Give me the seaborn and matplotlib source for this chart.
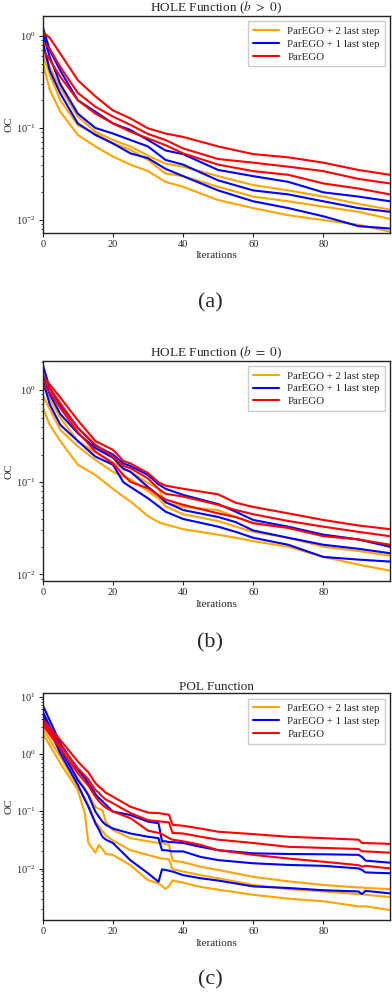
import numpy as np
import pandas as pd
import seaborn as sns
import matplotlib
matplotlib.use("Agg")
import matplotlib.pyplot as plt

# ---- data (OC vs iteration, upper / mean / lower curves) ----
labels = ["ParEGO + 2 last step", "ParEGO + 1 last step", "ParEGO"]
colors = ["orange", "blue", "red"]
titles = [r"HOLE Function ($b\ >\ 0$)", r"HOLE Function ($b\ =\ 0$)", "POL Function"]
captions = ["(a)", "(b)", "(c)"]

# panel (a)
iters_a = [0, 2, 5, 10, 15, 20, 25, 30, 35, 40, 50, 60, 70, 80, 90, 99]
a_red_up = [1.10, 0.95, 0.64, 0.33, 0.22, 0.155, 0.127, 0.099, 0.087, 0.080, 0.063, 0.052, 0.048, 0.042, 0.035, 0.031]
a_red_mid = [0.86, 0.72, 0.46, 0.24, 0.17, 0.133, 0.108, 0.086, 0.074, 0.060, 0.046, 0.042, 0.038, 0.034, 0.028, 0.025]
a_red_lo = [0.70, 0.55, 0.36, 0.20, 0.143, 0.112, 0.091, 0.077, 0.065, 0.053, 0.040, 0.034, 0.031, 0.025, 0.022, 0.019]
a_blue_up = [1.25, 0.70, 0.42, 0.20, 0.15, 0.112, 0.095, 0.074, 0.057, 0.052, 0.035, 0.030, 0.026, 0.020, 0.018, 0.016]
a_blue_mid = [1.06, 0.59, 0.30, 0.143, 0.10, 0.087, 0.074, 0.063, 0.045, 0.040, 0.027, 0.021, 0.019, 0.016, 0.0135, 0.0123]
a_blue_lo = [0.86, 0.42, 0.237, 0.112, 0.084, 0.068, 0.053, 0.047, 0.036, 0.030, 0.021, 0.016, 0.0135, 0.011, 0.0086, 0.0081]
a_or_up = [0.76, 0.46, 0.27, 0.133, 0.091, 0.074, 0.063, 0.050, 0.041, 0.038, 0.030, 0.024, 0.021, 0.018, 0.015, 0.013]
a_or_mid = [0.64, 0.38, 0.20, 0.107, 0.087, 0.068, 0.058, 0.045, 0.032, 0.030, 0.023, 0.018, 0.016, 0.014, 0.0123, 0.0103]
a_or_lo = [0.52, 0.26, 0.15, 0.084, 0.063, 0.049, 0.040, 0.034, 0.026, 0.023, 0.0165, 0.0135, 0.0113, 0.010, 0.0089, 0.0075]

# panel (b)
iters_b = [0, 2, 5, 10, 15, 20, 23, 25, 30, 33, 35, 40, 50, 55, 60, 70, 80, 90, 99]
b_red_up = [1.45, 1.15, 0.83, 0.47, 0.28, 0.225, 0.17, 0.16, 0.126, 0.10, 0.092, 0.085, 0.074, 0.060, 0.054, 0.046, 0.039, 0.034, 0.031]
b_red_mid = [1.30, 1.05, 0.72, 0.39, 0.255, 0.19, 0.15, 0.142, 0.11, 0.085, 0.075, 0.070, 0.057, 0.050, 0.045, 0.038, 0.033, 0.029, 0.026]
b_red_lo = [1.15, 0.95, 0.64, 0.35, 0.216, 0.16, 0.12, 0.101, 0.086, 0.072, 0.065, 0.057, 0.046, 0.042, 0.036, 0.032, 0.026, 0.024, 0.021]
b_blue_up = [1.88, 1.05, 0.69, 0.39, 0.25, 0.20, 0.16, 0.15, 0.12, 0.095, 0.085, 0.073, 0.058, 0.048, 0.039, 0.033, 0.027, 0.024, 0.020]
b_blue_mid = [1.50, 0.90, 0.55, 0.34, 0.235, 0.185, 0.14, 0.13, 0.089, 0.072, 0.061, 0.050, 0.042, 0.037, 0.030, 0.025, 0.021, 0.019, 0.017]
b_blue_lo = [1.30, 0.70, 0.42, 0.28, 0.19, 0.155, 0.10, 0.089, 0.067, 0.055, 0.048, 0.040, 0.033, 0.029, 0.025, 0.021, 0.0155, 0.0145, 0.0138]
b_or_up = [1.15, 0.80, 0.50, 0.28, 0.21, 0.165, 0.14, 0.13, 0.098, 0.085, 0.060, 0.054, 0.050, 0.042, 0.036, 0.032, 0.027, 0.024, 0.020]
b_or_mid = [0.88, 0.62, 0.37, 0.245, 0.175, 0.13, 0.115, 0.108, 0.080, 0.067, 0.055, 0.045, 0.038, 0.033, 0.029, 0.025, 0.020, 0.018, 0.016]
b_or_lo = [0.65, 0.42, 0.28, 0.155, 0.12, 0.085, 0.070, 0.062, 0.043, 0.037, 0.035, 0.031, 0.027, 0.025, 0.023, 0.020, 0.0155, 0.0128, 0.011]

# panel (c)
iters_c = [0, 5, 10, 12, 13, 15, 16, 17, 18, 20, 25, 30, 33, 34, 35, 36, 37, 40, 45, 50, 60, 70, 80, 90, 91, 92, 99]
c_red_up = [4.0, 1.75, 0.74, 0.55, 0.48, 0.31, 0.27, 0.24, 0.21, 0.18, 0.12, 0.095, 0.093, 0.091, 0.089, 0.087, 0.058, 0.056, 0.050, 0.044, 0.040, 0.036, 0.034, 0.032, 0.028, 0.028, 0.027]
c_red_mid = [3.6, 1.44, 0.56, 0.42, 0.36, 0.235, 0.21, 0.18, 0.16, 0.138, 0.093, 0.070, 0.067, 0.066, 0.065, 0.064, 0.042, 0.041, 0.036, 0.032, 0.028, 0.024, 0.023, 0.022, 0.020, 0.020, 0.019]
c_red_lo = [3.2, 1.25, 0.46, 0.33, 0.28, 0.18, 0.15, 0.13, 0.115, 0.099, 0.076, 0.046, 0.042, 0.040, 0.037, 0.034, 0.032, 0.030, 0.026, 0.021, 0.0174, 0.015, 0.0132, 0.0115, 0.0108, 0.0112, 0.0101]
c_blue_up = [7.1, 1.53, 0.53, 0.38, 0.31, 0.20, 0.17, 0.15, 0.13, 0.099, 0.086, 0.066, 0.062, 0.030, 0.030, 0.029, 0.029, 0.028, 0.024, 0.021, 0.0185, 0.018, 0.0178, 0.0174, 0.016, 0.0138, 0.0127]
c_blue_mid = [5.5, 1.25, 0.35, 0.24, 0.19, 0.099, 0.080, 0.066, 0.058, 0.050, 0.041, 0.036, 0.034, 0.021, 0.021, 0.0205, 0.020, 0.020, 0.016, 0.0141, 0.0124, 0.0116, 0.0112, 0.0101, 0.0095, 0.0086, 0.0083]
c_blue_lo = [4.8, 1.03, 0.29, 0.16, 0.12, 0.062, 0.048, 0.036, 0.032, 0.028, 0.014, 0.0083, 0.0059, 0.0097, 0.0095, 0.0092, 0.0089, 0.0077, 0.0068, 0.0062, 0.0049, 0.0046, 0.0042, 0.0040, 0.0036, 0.0041, 0.0037]
c_or_up = [3.4, 1.17, 0.38, 0.25, 0.20, 0.12, 0.11, 0.105, 0.065, 0.047, 0.034, 0.030, 0.028, 0.028, 0.027, 0.026, 0.0138, 0.013, 0.0108, 0.0095, 0.0072, 0.0060, 0.0052, 0.0047, 0.0047, 0.0046, 0.0044]
c_or_mid = [2.8, 0.90, 0.27, 0.17, 0.13, 0.065, 0.055, 0.045, 0.038, 0.031, 0.021, 0.0173, 0.0155, 0.015, 0.0148, 0.0145, 0.0098, 0.0089, 0.0077, 0.0068, 0.0052, 0.0044, 0.0040, 0.0036, 0.0036, 0.0035, 0.0032]
c_or_lo = [2.3, 0.69, 0.235, 0.092, 0.028, 0.019, 0.026, 0.022, 0.018, 0.0174, 0.0115, 0.0063, 0.0055, 0.0050, 0.0044, 0.0050, 0.0062, 0.0057, 0.0048, 0.0043, 0.0035, 0.0030, 0.0027, 0.0022, 0.0022, 0.0022, 0.0019]

panels = [
    (iters_a, [(a_or_up, a_or_mid, a_or_lo), (a_blue_up, a_blue_mid, a_blue_lo), (a_red_up, a_red_mid, a_red_lo)], (0.0073, 1.64)),
    (iters_b, [(b_or_up, b_or_mid, b_or_lo), (b_blue_up, b_blue_mid, b_blue_lo), (b_red_up, b_red_mid, b_red_lo)], (0.0085, 2.08)),
    (iters_c, [(c_or_up, c_or_mid, c_or_lo), (c_blue_up, c_blue_mid, c_blue_lo), (c_red_up, c_red_mid, c_red_lo)], (0.00127, 11.4)),
]

sns.set_style("ticks")
plt.rcParams["font.family"] = ["Liberation Serif", "DejaVu Serif"]
plt.rcParams["mathtext.fontset"] = "stix"

fig = plt.figure(figsize=(3.92, 9.94), dpi=100)
# axes boxes [left, bottom, width, height] in figure fractions
boxes = [[0.109, 0.7659, 0.886, 0.218],
         [0.109, 0.4155, 0.886, 0.2216],
         [0.109, 0.0744, 0.886, 0.2281]]
caption_y = [0.695, 0.353, 0.014]

for k, (iters, groups, ylim) in enumerate(panels):
    ax = fig.add_axes(boxes[k])
    for lab, col, (up, mid, lo) in zip(labels, colors, groups):
        sns.lineplot(x=iters, y=up, color=col, lw=1.5, ax=ax, legend=False)
        sns.lineplot(x=iters, y=mid, color=col, lw=1.5, ax=ax, label=lab)
        sns.lineplot(x=iters, y=lo, color=col, lw=1.5, ax=ax, legend=False)
    ax.set_yscale("log")
    ax.set_xlim(0, 99)
    ax.set_ylim(*ylim)
    ax.set_xticks([0, 20, 40, 60, 80])
    ax.set_xlabel("Iterations", fontsize=8, labelpad=2)
    ax.set_ylabel("OC", fontsize=8, labelpad=2)
    ax.set_title(titles[k], fontsize=9.5, pad=2)
    ax.tick_params(labelsize=7.5, length=3, width=0.8, pad=2)
    ax.tick_params(which="minor", length=1.5, width=0.6)
    for s in ax.spines.values():
        s.set_color("#222222")
        s.set_linewidth(1.0)
    ax.legend(loc="upper right", fontsize=7.8, frameon=True, fancybox=False,
              handlelength=2.4, borderpad=0.45, labelspacing=0.3,
              edgecolor="#cccccc", framealpha=1.0)
    fig.text(0.536, caption_y[k], captions[k], fontsize=16, ha="center", va="center")

fig.savefig("out.png", dpi=100)
